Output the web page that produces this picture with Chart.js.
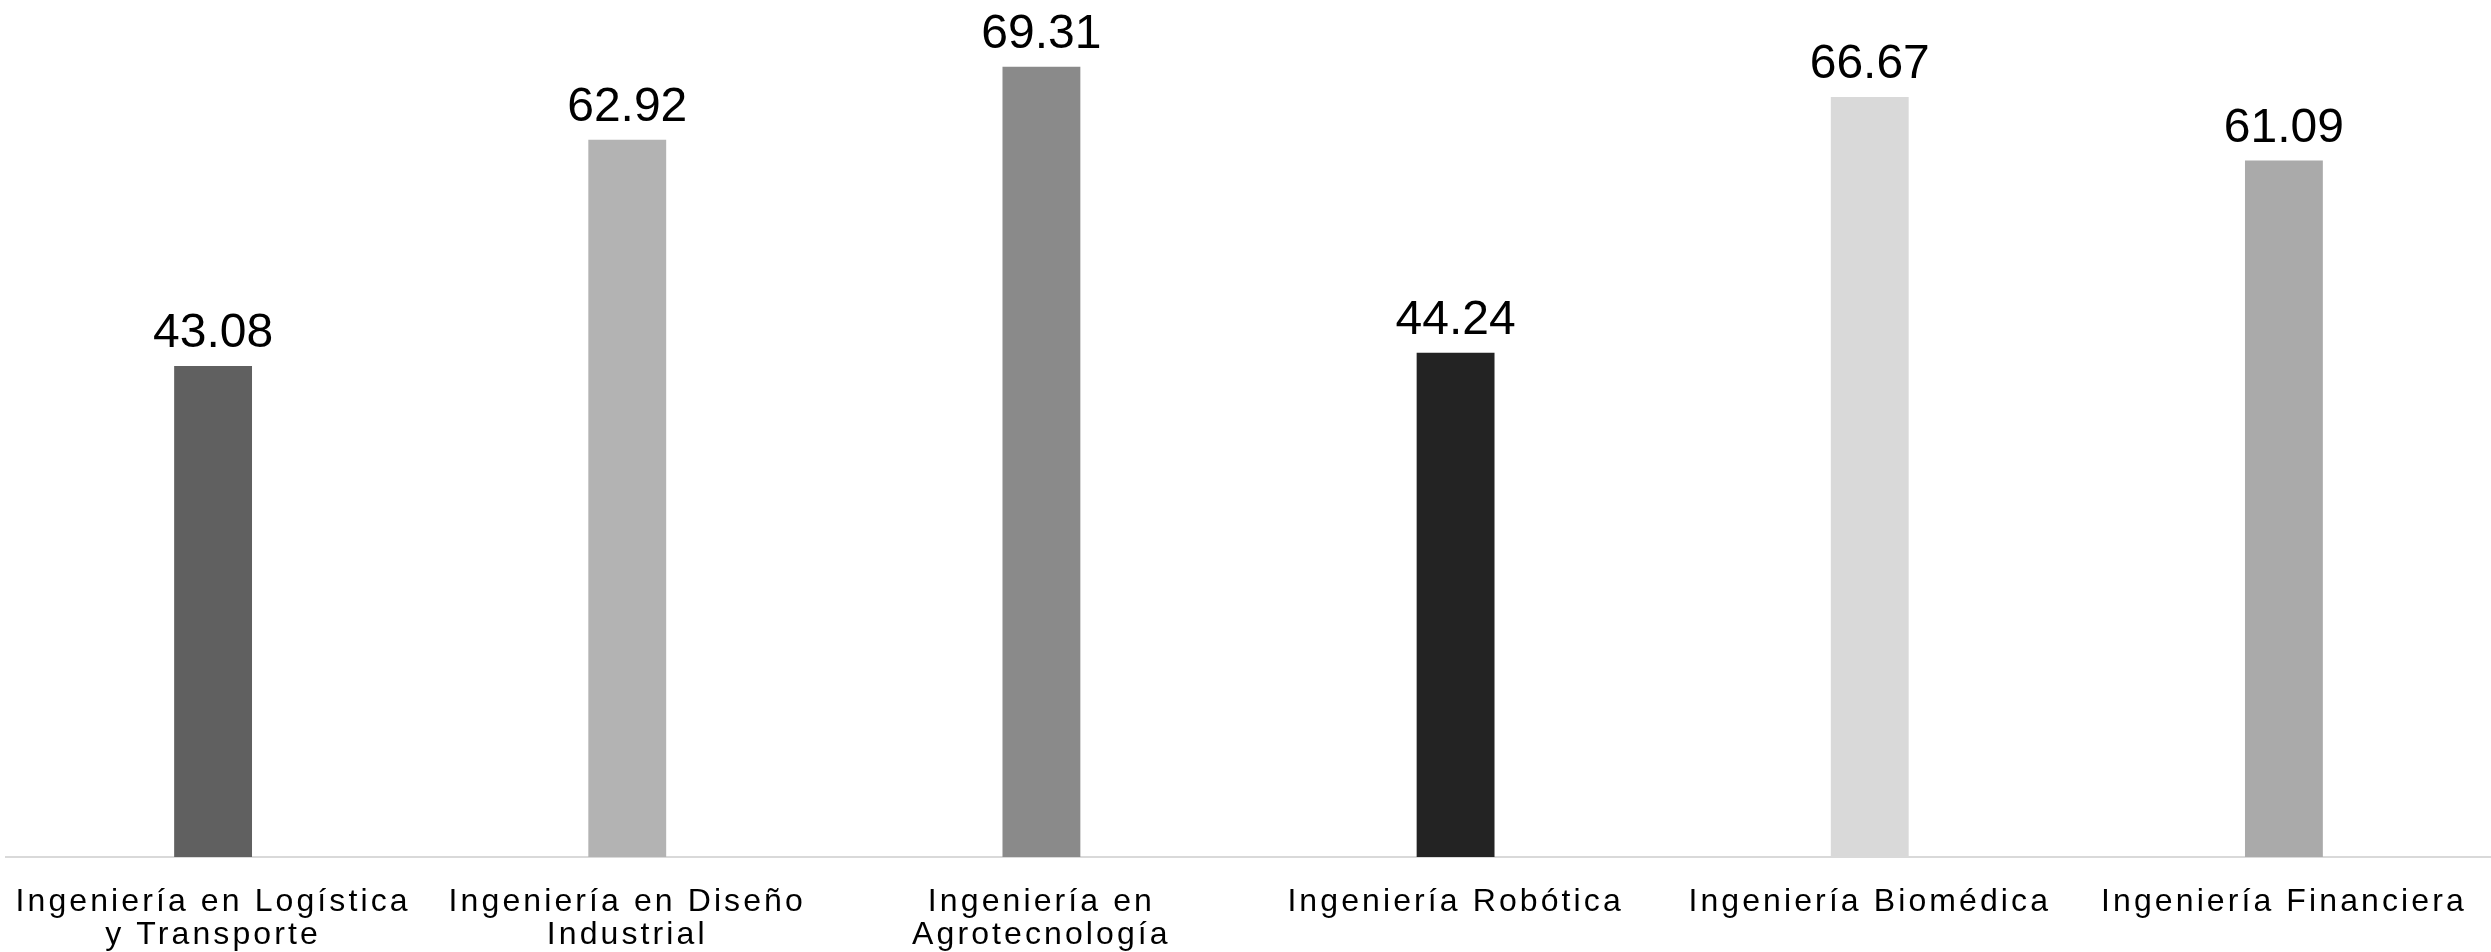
<!DOCTYPE html>
<html>
<head>
<meta charset="utf-8">
<script src="https://cdn.jsdelivr.net/npm/chart.js@4.4.1/dist/chart.umd.min.js"></script>
<style>
  html, body { margin: 0; padding: 0; background: #ffffff; }
  #wrap { width: 2491px; height: 952px; }
</style>
</head>
<body>
<div id="wrap"><canvas id="grafico"></canvas></div>
<script>
// Dati
const carreras = [
    ['Ingeniería en Logística', 'y Transporte'],
    ['Ingeniería en Diseño', 'Industrial'],
    ['Ingeniería en', 'Agrotecnología'],
    'Ingeniería Robótica',
    'Ingeniería Biomédica',
    'Ingeniería Financiera'
];
const valores = [43.08, 62.92, 69.31, 44.24, 66.67, 61.09];
const coloresBarras = ['#606060', '#b3b3b3', '#8a8a8a', '#232323', '#d9d9d9', '#aaaaaa'];

// Spaziatura lettere per le etichette dell'asse x
const spaziatura = {
    id: 'spaziatura',
    beforeLayout(chart) { chart.ctx.letterSpacing = '3.1px'; },
    beforeDraw(chart) { chart.ctx.letterSpacing = '3.1px'; }
};

// Etichette dei valori sopra le barre
const etichetteValori = {
    id: 'etichetteValori',
    afterDatasetsDraw(chart) {
        const ctx = chart.ctx;
        const meta = chart.getDatasetMeta(0);
        ctx.save();
        ctx.letterSpacing = '0px';
        ctx.font = '48px "Liberation Sans", Arial, sans-serif';
        ctx.fillStyle = '#000000';
        ctx.textAlign = 'center';
        ctx.textBaseline = 'alphabetic';
        meta.data.forEach((bar, i) => {
            ctx.fillText(valores[i].toFixed(2), bar.x, bar.y - 19);
        });
        ctx.restore();
    }
};

new Chart(document.getElementById('grafico'), {
    type: 'bar',
    data: {
        labels: carreras,
        datasets: [{
            data: valores,
            backgroundColor: coloresBarras,
            borderWidth: 0,
            barPercentage: 0.188,
            categoryPercentage: 1
        }]
    },
    options: {
        responsive: true,
        maintainAspectRatio: false,
        animation: false,
        layout: { padding: { left: 6, right: 0, top: 2, bottom: 0 } },
        plugins: {
            legend: { display: false },
            tooltip: { enabled: false }
        },
        scales: {
            x: {
                grid: { display: false },
                border: { display: true, color: '#d9d9d9', width: 2 },
                ticks: {
                    color: '#000000',
                    padding: 20,
                    maxRotation: 0,
                    autoSkip: false,
                    font: { family: '"Liberation Sans", Arial, sans-serif', size: 32, lineHeight: 1.05 }
                },
                afterFit(scale) {
                    scale.height = 95;
                    scale.paddingLeft = 0;
                    scale.paddingRight = 0;
                }
            },
            y: {
                display: false,
                min: 0,
                max: 75
            }
        }
    },
    plugins: [spaziatura, etichetteValori]
});
</script>
</body>
</html>
